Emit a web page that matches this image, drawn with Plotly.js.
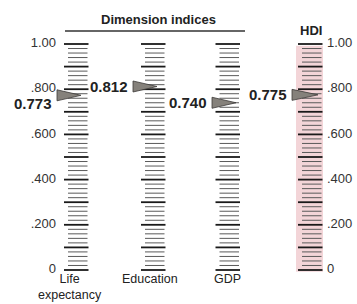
<!DOCTYPE html>
<html><head><meta charset="utf-8">
<script src="https://cdn.plot.ly/plotly-3.0.1.min.js"></script>
<style>html,body{margin:0;padding:0;background:#fff}#chart{width:357px;height:304px}</style>
</head><body><div id="chart"></div>
<script>
// ---- data ----
const dimensionNames = ['Life<br>expectancy', 'Education', 'GDP'];
const dimensionValues = [0.773, 0.812, 0.740];
const dimensionValueLabels = ['0.773', '0.812', '0.740'];
const hdiName = 'HDI';
const hdiValue = 0.775;
const hdiValueLabel = '0.775';
const scaleTickValues = [0, 0.2, 0.4, 0.6, 0.8, 1.0];
const scaleTickLabels = ['0', '.200', '.400', '.600', '.800', '1.00'];
const groupTitle = 'Dimension indices';

// ---- layout helpers (x in pixel-like units) ----
const colCenter = [76.5, 153.5, 228, 310.5];
const labelCenter = [70, 150, 227];
const arrowBase = [57, 133, 212, 292];
const arrowTip = [81, 157, 236, 318];
const valueLabelShift = [-8, 0, 0, 0];
const reg = 'Liberation Sans, Arial, Helvetica, sans-serif';
const H = 5.5 / 226;

const traces = [];
// HDI pink background
traces.push({type: 'bar', x: [309.5], y: [1.0], base: [-0.008], width: [27],
  marker: {color: '#f3d5d8', line: {width: 0}}, hoverinfo: 'skip', showlegend: false});

// tick marks
colCenter.forEach(function (c) {
  const mx = [], my = [], nx = [], ny = [];
  for (let i = 0; i <= 50; i++) {
    const v = i / 50;
    if (i % 5 === 0) { mx.push(c - 12.5, c + 12, null); my.push(v, v, null); }
    else { nx.push(c - 8.5, c + 11, null); ny.push(v, v, null); }
  }
  traces.push({type: 'scatter', mode: 'lines', x: nx, y: ny,
    line: {color: '#5a5a5a', width: 1}, hoverinfo: 'skip', showlegend: false});
  traces.push({type: 'scatter', mode: 'lines', x: mx, y: my,
    line: {color: '#1a1a1a', width: 1.8}, hoverinfo: 'skip', showlegend: false});
});

// pointers
const allValues = dimensionValues.concat([hdiValue]);
const allLabels = dimensionValueLabels.concat([hdiValueLabel]);
allValues.forEach(function (v, i) {
  traces.push({type: 'scatter', mode: 'lines', fill: 'toself',
    x: [arrowBase[i], arrowBase[i], arrowTip[i], arrowBase[i]],
    y: [v + H, v - H, v, v + H],
    fillcolor: '#85817b', line: {color: '#3c3a38', width: 0.8},
    hoverinfo: 'skip', showlegend: false});
});

// scale labels left & right
traces.push({type: 'scatter', mode: 'text',
  x: scaleTickValues.map(function () { return 56; }), y: scaleTickValues, text: scaleTickLabels,
  textposition: 'middle left', textfont: {family: reg, size: 13, color: '#333'},
  hoverinfo: 'skip', showlegend: false});
traces.push({type: 'scatter', mode: 'text',
  x: scaleTickValues.map(function () { return 327; }), y: scaleTickValues, text: scaleTickLabels,
  textposition: 'middle right', textfont: {family: reg, size: 13, color: '#333'},
  hoverinfo: 'skip', showlegend: false});

// group title underline
traces.push({type: 'scatter', mode: 'lines', x: [65, 245], y: [1 + 13 / 226, 1 + 13 / 226],
  line: {color: '#333', width: 1.6}, hoverinfo: 'skip', showlegend: false});

const annotations = [];
allValues.forEach(function (v, i) {
  annotations.push({x: arrowBase[i] - 3, y: v, xref: 'x', yref: 'y', text: '<b>' + allLabels[i] + '</b>',
    showarrow: false, xanchor: 'right', yanchor: 'middle', yshift: valueLabelShift[i],
    font: {family: reg, size: 15, color: '#222'}});
});
dimensionNames.forEach(function (n, i) {
  annotations.push({x: labelCenter[i], y: -0.02, xref: 'x', yref: 'y', text: n,
    showarrow: false, xanchor: 'center', yanchor: 'top', yshift: 5,
    font: {family: reg, size: 12.5, color: '#222'}});
});
annotations.push({x: 158.5, y: 1 + 25 / 226, xref: 'x', yref: 'y', text: '<b>' + groupTitle + '</b>',
  showarrow: false, xanchor: 'center', yanchor: 'middle',
  font: {family: reg, size: 13, color: '#222'}});
annotations.push({x: 311, y: 1 + 14 / 226, xref: 'x', yref: 'y', text: '<b>' + hdiName + '</b>',
  showarrow: false, xanchor: 'center', yanchor: 'middle',
  font: {family: reg, size: 13, color: '#222'}});

const layout = {
  width: 357, height: 304,
  margin: {l: 0, r: 0, t: 0, b: 0},
  paper_bgcolor: '#fff', plot_bgcolor: '#fff',
  xaxis: {range: [0, 357], visible: false, fixedrange: true},
  yaxis: {range: [-0.15044, 1.19469], visible: false, fixedrange: true},
  showlegend: false, annotations: annotations, barmode: 'overlay'
};
Plotly.newPlot('chart', traces, layout, {displayModeBar: false, staticPlot: true});
</script></body></html>
